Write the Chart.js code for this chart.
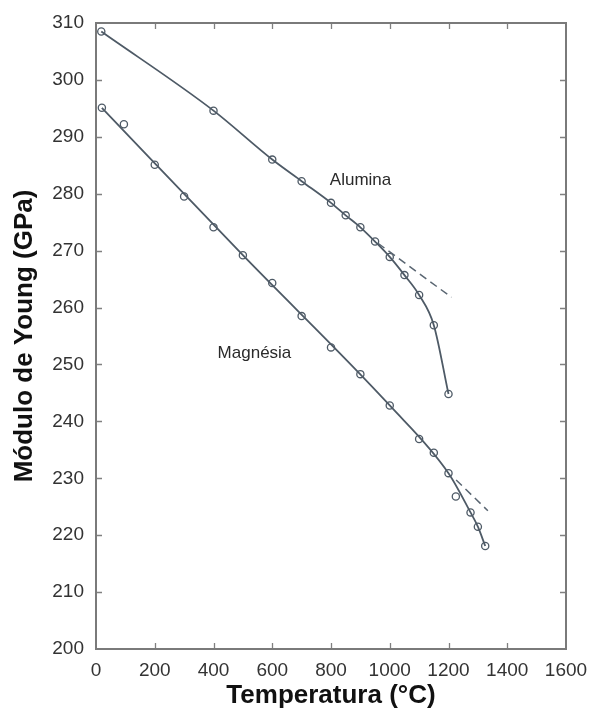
<!DOCTYPE html>
<html>
<head>
<meta charset="utf-8">
<script src="https://cdn.jsdelivr.net/npm/chart.js@4"></script>
<style>
  html, body { margin: 0; padding: 0; background: #fff; }
  #wrap { width: 589px; height: 709px; }
</style>
</head>
<body>
<div id="wrap"><canvas id="young-chart" width="589" height="709"></canvas></div>
<script>
// measured points (°C, GPa)
const ALUMINA_T = [18, 400, 600, 700, 800, 850, 900, 950, 1000, 1050, 1100, 1150, 1200];
const ALUMINA_E = [308.5, 294.6, 286.0, 282.2, 278.4, 276.2, 274.1, 271.6, 268.9, 265.7, 262.2, 256.9, 244.8];

const MAGNESIA_T = [20, 95, 200, 300, 400, 500, 600, 700, 800, 900, 1000, 1100, 1150, 1200, 1225, 1275, 1300, 1325];
const MAGNESIA_E = [295.1, 292.2, 285.1, 279.5, 274.1, 269.2, 264.3, 258.5, 253.0, 248.3, 242.8, 236.9, 234.5, 230.9, 226.8, 224.0, 221.5, 218.1];

// fitted curve for magnesia (skips the two stray points)
const MAGNESIA_LINE_T = [20, 500, 1000, 1200, 1275, 1300, 1325];
const MAGNESIA_LINE_E = [295.1, 269.2, 242.8, 230.9, 224.0, 221.5, 218.1];

// dashed linear extrapolations
const ALUMINA_TREND_T = [960, 1210];
const ALUMINA_TREND_E = [271.3, 261.8];
const MAGNESIA_TREND_T = [1226, 1334];
const MAGNESIA_TREND_E = [229.7, 224.3];

const X_TICKS = [0, 200, 400, 600, 800, 1000, 1200, 1400, 1600];
const Y_TICKS = [200, 210, 220, 230, 240, 250, 260, 270, 280, 290, 300, 310];

const LABELS = [
  { text: 'Alumina', t: 796, e: 282.4 },
  { text: 'Magnésia', t: 414, e: 252.0 }
];

const LINE_COLOR = '#4e5a66';
const FONT = "'Liberation Sans', Arial, sans-serif";

const toXY = (xs, ys) => xs.map((x, i) => ({ x, y: ys[i] }));

const framePlugin = {
  id: 'frame',
  afterDraw(chart) {
    const { ctx, chartArea: a, scales: { x, y } } = chart;
    ctx.save();
    ctx.strokeStyle = '#808080';
    ctx.lineWidth = 1.3;
    X_TICKS.slice(1, -1).forEach(v => {
      const px = Math.round(x.getPixelForValue(v)) + 0.5;
      ctx.beginPath();
      ctx.moveTo(px, a.bottom); ctx.lineTo(px, a.bottom - 6);
      ctx.moveTo(px, a.top); ctx.lineTo(px, a.top + 6);
      ctx.stroke();
    });
    Y_TICKS.slice(1, -1).forEach(v => {
      const py = Math.round(y.getPixelForValue(v)) + 0.5;
      ctx.beginPath();
      ctx.moveTo(a.left, py); ctx.lineTo(a.left + 6, py);
      ctx.moveTo(a.right, py); ctx.lineTo(a.right - 6, py);
      ctx.stroke();
    });
    ctx.lineWidth = 2;
    ctx.strokeStyle = '#7a7a7a';
    ctx.strokeRect(a.left, a.top, a.right - a.left, a.bottom - a.top);

    ctx.fillStyle = '#2a2a2a';
    ctx.font = '17px ' + FONT;
    ctx.textBaseline = 'middle';
    ctx.textAlign = 'left';
    LABELS.forEach(l => {
      ctx.fillText(l.text, x.getPixelForValue(l.t), y.getPixelForValue(l.e));
    });
    ctx.restore();
  }
};

const markerStyle = {
  showLine: false,
  pointRadius: 3.6,
  pointBorderWidth: 1.3,
  pointBorderColor: LINE_COLOR,
  pointBackgroundColor: '#fff'
};

const curveStyle = {
  showLine: true,
  borderColor: LINE_COLOR,
  borderWidth: 1.8,
  pointRadius: 0,
  cubicInterpolationMode: 'monotone'
};

const dashStyle = {
  showLine: true,
  borderColor: '#5a6672',
  borderWidth: 1.5,
  borderDash: [8, 5],
  pointRadius: 0
};

new Chart(document.getElementById('young-chart'), {
  type: 'scatter',
  data: {
    datasets: [
      { label: 'Alumina curve', data: toXY(ALUMINA_T, ALUMINA_E), ...curveStyle },
      { label: 'Magnesia curve', data: toXY(MAGNESIA_LINE_T, MAGNESIA_LINE_E), ...curveStyle },
      { label: 'Alumina trend', data: toXY(ALUMINA_TREND_T, ALUMINA_TREND_E), ...dashStyle },
      { label: 'Magnesia trend', data: toXY(MAGNESIA_TREND_T, MAGNESIA_TREND_E), ...dashStyle },
      { label: 'Alumina', data: toXY(ALUMINA_T, ALUMINA_E), ...markerStyle },
      { label: 'Magnésia', data: toXY(MAGNESIA_T, MAGNESIA_E), ...markerStyle }
    ]
  },
  options: {
    responsive: false,
    animation: false,
    layout: { padding: { top: 23, right: 23, left: 0, bottom: 0 } },
    scales: {
      x: {
        type: 'linear',
        min: 0,
        max: 1600,
        afterBuildTicks: s => { s.ticks = X_TICKS.map(v => ({ value: v })); },
        afterFit: s => { s.height = 60; s.paddingLeft = 0; s.paddingRight = 0; },
        grid: { display: false, drawTicks: false },
        border: { display: false },
        ticks: {
          padding: 10,
          color: '#333',
          font: { family: FONT, size: 19 },
          callback: v => String(v)
        },
        title: {
          display: true,
          text: 'Temperatura (°C)',
          color: '#111',
          padding: { top: 0, bottom: 0 },
          font: { family: FONT, size: 26, weight: 'bold', lineHeight: 1 }
        }
      },
      y: {
        type: 'linear',
        min: 200,
        max: 310,
        afterBuildTicks: s => { s.ticks = Y_TICKS.map(v => ({ value: v })); },
        afterFit: s => { s.width = 96; s.paddingTop = 0; s.paddingBottom = 0; },
        grid: { display: false, drawTicks: false },
        border: { display: false },
        ticks: {
          padding: 12,
          color: '#333',
          font: { family: FONT, size: 19 },
          callback: v => String(v)
        },
        title: {
          display: true,
          text: 'Módulo de Young (GPa)',
          color: '#111',
          padding: { top: 9, bottom: 0 },
          font: { family: FONT, size: 26, weight: 'bold' }
        }
      }
    },
    plugins: {
      legend: { display: false },
      tooltip: { enabled: false }
    }
  },
  plugins: [framePlugin]
});
</script>
</body>
</html>
